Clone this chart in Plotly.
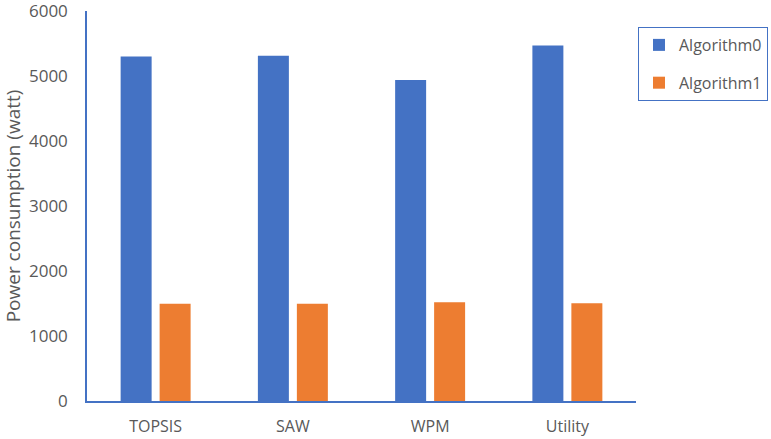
import plotly.graph_objects as go

categories = ["TOPSIS", "SAW", "WPM", "Utility"]
algorithm0 = [5300, 5310, 4940, 5470]
algorithm1 = [1495, 1497, 1518, 1503]
y_ticks = [0, 1000, 2000, 3000, 4000, 5000, 6000]

BLUE = "#4472C4"
ORANGE = "#ED7D31"
GRAY = "#595959"
FONT = "Open Sans"

fig = go.Figure()
fig.add_trace(go.Bar(name="Algorithm0", x=categories, y=algorithm0,
                     marker=dict(color=BLUE, line=dict(width=0)), legendgroup="a0"))
fig.add_trace(go.Bar(name="Algorithm1", x=categories, y=algorithm1,
                     marker=dict(color=ORANGE, line=dict(width=0)), legendgroup="a1"))

fig.update_layout(
    width=771, height=439,
    margin=dict(l=87, r=135, t=11, b=38, autoexpand=False),
    paper_bgcolor="white", plot_bgcolor="white",
    barmode="group", bargap=0.432, bargroupgap=0.205,
    font=dict(family=FONT, color=GRAY, size=16),
    showlegend=True,
    legend=dict(
        x=1.0036, y=0.959, xanchor="left", yanchor="top",
        bordercolor=BLUE, borderwidth=1,
        font=dict(family=FONT, size=16, color=GRAY),
        traceorder="grouped", tracegroupgap=14,
        itemwidth=30,
    ),
    xaxis=dict(
        showline=True, linecolor=BLUE, linewidth=1.5,
        showgrid=False, ticks="outside", ticklen=10, tickcolor="rgba(0,0,0,0)",
        tickfont=dict(family=FONT, size=16, color=GRAY),
        automargin=False,
    ),
    yaxis=dict(
        range=[0, 6000], tickvals=y_ticks,
        showline=True, linecolor=BLUE, linewidth=1.5,
        showgrid=False, zeroline=False,
        ticks="outside", ticklen=14, tickcolor="rgba(0,0,0,0)",
        tickfont=dict(family=FONT, size=17, color=GRAY),
        ticklabeloverflow="allow",
        automargin=False,
        title=dict(text="Power consumption (watt)", standoff=10,
                   font=dict(family=FONT, size=19, color=GRAY)),
    ),
)

fig.write_html("out.html",
               config={"displayModeBar": False},
               post_script="document.body.style.margin='0';document.body.style.overflow='hidden';")
